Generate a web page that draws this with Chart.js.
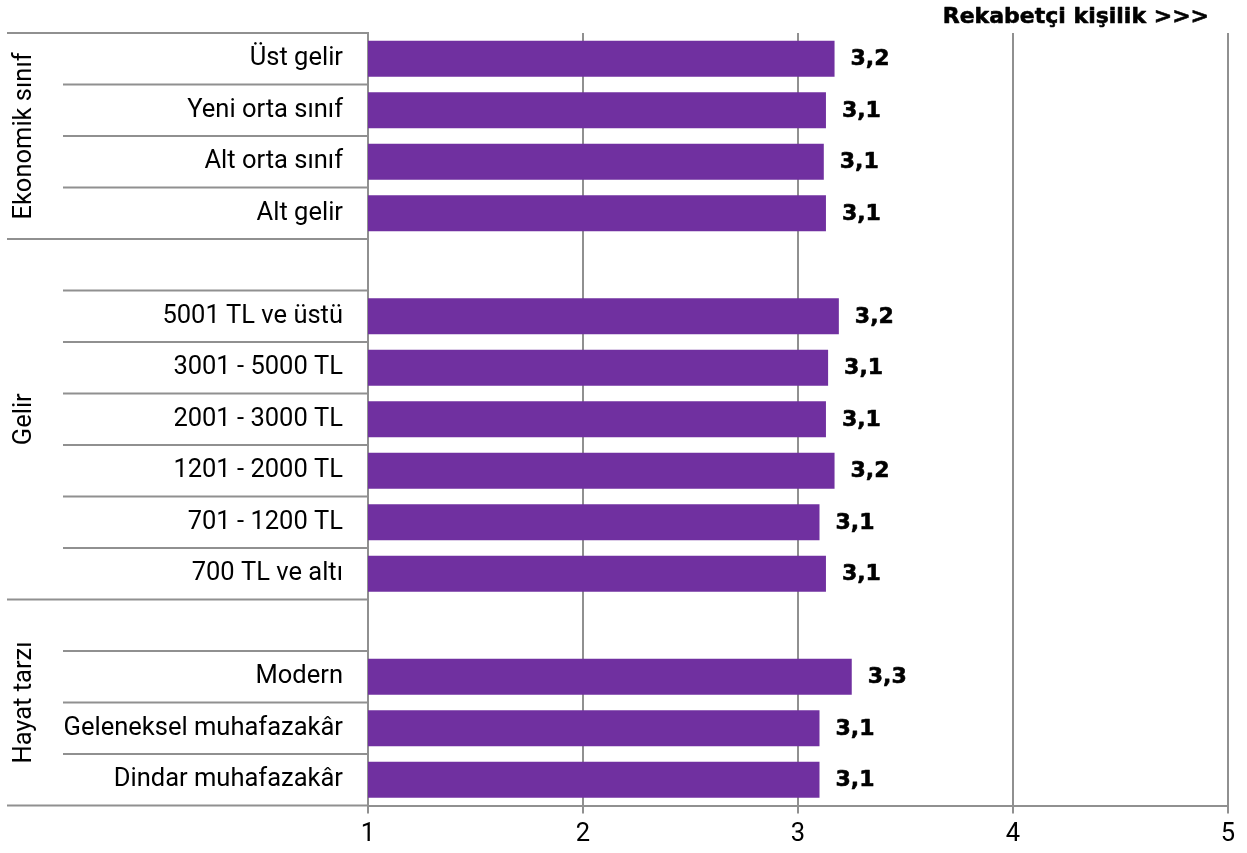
<!DOCTYPE html>
<html>
<head>
<meta charset="utf-8">
<script src="https://cdn.jsdelivr.net/npm/chart.js@4/dist/chart.umd.min.js"></script>
<style>
html,body{margin:0;padding:0;background:#fff;}
canvas{display:block;}
</style>
</head>
<body>
<canvas id="c" width="1247" height="853"></canvas>
<script>
const categories = ['Üst gelir', 'Yeni orta sınıf', 'Alt orta sınıf', 'Alt gelir', '',
  '5001 TL ve üstü', '3001 - 5000 TL', '2001 - 3000 TL', '1201 - 2000 TL', '701 - 1200 TL', '700 TL ve altı', '',
  'Modern', 'Geleneksel muhafazakâr', 'Dindar muhafazakâr'];
const values = [3.17, 3.13, 3.12, 3.13, null,
  3.19, 3.14, 3.13, 3.17, 3.10, 3.13, null,
  3.25, 3.10, 3.10];
const groupNames = ['Ekonomik sınıf', 'Gelir', 'Hayat tarzı'];
const groupStarts = [0, 4, 11];
const groupEnds = [3, 10, 14];
const xTicks = [1, 2, 3, 4, 5];
const chartTitle = 'Rekabetçi kişilik >>>';

const GRID = '#909090';
const FAMILY = 'Roboto, "Liberation Sans", Arial, sans-serif';
const LABEL_SIZE = 25.5;
const LABEL_FONT = LABEL_SIZE + 'px ' + FAMILY;
const BOLD_FONT = 'bold 22px "DejaVu Sans", sans-serif';

function heavyText(ctx, text, x, y) {
  ctx.lineWidth = 0.6;
  ctx.strokeStyle = '#000';
  ctx.lineJoin = 'round';
  ctx.strokeText(text, x, y);
  ctx.fillText(text, x, y);
}

const extras = {
  id: 'extras',
  afterDraw(chart) {
    const ctx = chart.ctx;
    const ys = chart.scales.y;
    const area = chart.chartArea;
    const n = categories.length;
    const half = (ys.getPixelForValue(1) - ys.getPixelForValue(0)) / 2;
    ctx.save();
    // separators in category label area
    ctx.strokeStyle = GRID;
    ctx.lineWidth = 2;
    for (let i = 0; i <= n; i++) {
      const yy = i < n ? ys.getPixelForValue(i) - half : ys.getPixelForValue(n - 1) + half;
      const full = groupStarts.includes(i) || i === n;
      ctx.beginPath();
      ctx.moveTo(full ? 7 : 63, yy);
      ctx.lineTo(area.left, yy);
      ctx.stroke();
    }
    // group labels (rotated)
    ctx.fillStyle = '#000';
    ctx.font = LABEL_FONT;
    ctx.textAlign = 'center';
    ctx.textBaseline = 'middle';
    groupNames.forEach((g, k) => {
      const y0 = ys.getPixelForValue(groupStarts[k]) - half;
      const y1 = ys.getPixelForValue(groupEnds[k]) + half;
      ctx.save();
      ctx.translate(25, (y0 + y1) / 2);
      ctx.rotate(-Math.PI / 2);
      ctx.fillText(g, 0, 0);
      ctx.restore();
    });
    // data labels
    ctx.font = BOLD_FONT;
    ctx.textAlign = 'left';
    const meta = chart.getDatasetMeta(0);
    meta.data.forEach((bar, i) => {
      const v = values[i];
      if (v === null || v === undefined) return;
      heavyText(ctx, v.toFixed(1).replace('.', ','), bar.x + 16, bar.y + 1);
    });
    // title
    ctx.textAlign = 'right';
    heavyText(ctx, chartTitle, area.right - 19, 17);
    ctx.restore();
  }
};

new Chart(document.getElementById('c'), {
  type: 'bar',
  data: {
    labels: categories,
    datasets: [{
      data: values,
      backgroundColor: '#7030A0',
      borderWidth: 0,
      barPercentage: 0.7,
      categoryPercentage: 1.0
    }]
  },
  options: {
    indexAxis: 'y',
    responsive: false,
    animation: false,
    devicePixelRatio: 1,
    layout: { padding: { left: 0, right: 19, top: 33, bottom: 0 } },
    plugins: { legend: { display: false }, tooltip: { enabled: false } },
    scales: {
      x: {
        min: 1, max: 5,
        afterBuildTicks(scale) { scale.ticks = xTicks.map(v => ({ value: v })); },
        afterFit(scale) { scale.height = 47.5; scale.paddingLeft = 0; scale.paddingRight = 0; },
        grid: { color: GRID, lineWidth: 2, tickLength: 8, drawTicks: true },
        border: { color: GRID, width: 2 },
        ticks: { color: '#000', font: { family: FAMILY, size: LABEL_SIZE }, padding: 6 }
      },
      y: {
        afterFit(scale) { scale.width = 368; scale.paddingTop = 0; scale.paddingBottom = 0; },
        grid: { display: true, drawOnChartArea: false, drawTicks: false },
        border: { color: GRID, width: 2 },
        ticks: { color: '#000', font: { family: FAMILY, size: LABEL_SIZE }, padding: 25, autoSkip: false }
      }
    }
  },
  plugins: [extras]
});
</script>
</body>
</html>
